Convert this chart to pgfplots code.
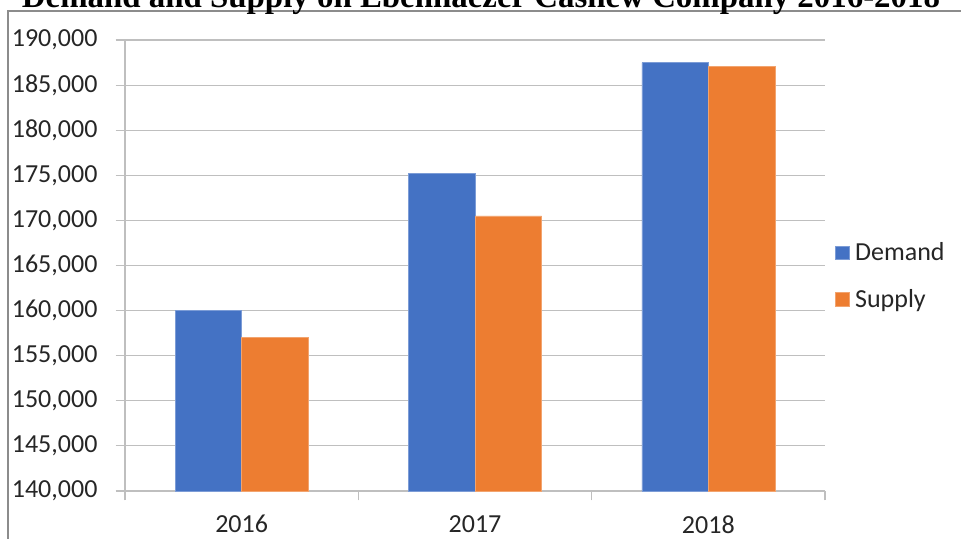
\documentclass[border=0pt]{standalone}
\usepackage{pgfplots}
\pgfplotsset{compat=1.18}
\usepackage{pgfplotstable}
\usepackage{fontspec}
\setmainfont{Carlito}
\newfontfamily\titlefont{Liberation Serif}
\definecolor{dblue}{HTML}{4472C4}
\definecolor{sorange}{HTML}{ED7D31}
\definecolor{gridc}{HTML}{BFBFBF}
\definecolor{framec}{HTML}{8C8C8C}
\pgfplotstableread{
x demand supply
0 160000 157000
1 175200 170500
2 187500 187100
}\datatable
\begin{document}
\begin{tikzpicture}
\useasboundingbox (0pt,0pt) rectangle (720.75pt,-404.25pt);
% frame
\draw[framec, line width=0.8pt] (6pt,-420pt) -- (6pt,-8.25pt) -- (735pt,-8.25pt);
% title (cut off at top)
\node[anchor=base, inner sep=0pt] at (360.75pt,-5.6pt) {\resizebox{688.5pt}{!}{\titlefont\bfseries Demand and Supply on Ebennaezer Cashew Company 2016-2018}};
\begin{axis}[
  at={(93.75pt,-368.25pt)}, anchor=south west,
  scale only axis, width=525pt, height=338.25pt,
  ymin=140000, ymax=190000,
  xmin=-0.5, xmax=2.5,
  ytick={140000,145000,...,190000},
  xtick={0,1,2}, xticklabels={2016,2017,2018},
  major x tick style={draw=none},
  extra x ticks={-0.5,0.5,1.5,2.5}, extra x tick labels={},
  extra x tick style={major tick length=7pt, tick align=outside, grid=none, major x tick style={draw=gridc, line width=0.8pt}},
  y tick style={draw=gridc, line width=0.8pt},
  major tick length=7pt, tick align=outside,
  axis x line*=bottom, axis y line*=left,
  axis line style={draw=gridc, line width=0.8pt, -},
  ymajorgrids, grid style={draw=gridc, line width=0.8pt},
  scaled y ticks=false,
  yticklabel={\pgfmathprintnumber[fixed, 1000 sep={,}]{\tick}},
  /pgf/number format/assume math mode=true,
  tick label style={font=\fontsize{19.5}{23}\selectfont, text=black!85},
  yticklabel style={anchor=east, inner sep=0pt, xshift=-13.5pt},
  xticklabel style={anchor=north, inner sep=0pt, yshift=-11pt},
  ybar=0pt, bar width=0.285,
  legend style={at={(1,0.477)}, anchor=west, draw=none, fill=none, font=\fontsize{19.5}{23}\selectfont, text=black!85, row sep=16pt, inner sep=0pt, xshift=7.5pt},
  legend cell align=left,
  legend image code/.code={\fill[#1] (0pt,-5pt) rectangle (10pt,5pt); \path (12.5pt,0pt);},
]
\addplot[fill=dblue, draw=dblue!70!white, line width=0.4pt, bar shift=-0.1425] table[x=x, y=demand] {\datatable};
\addlegendentry{Demand}
\addplot[fill=sorange, draw=sorange!70!white, line width=0.4pt, bar shift=0.1425] table[x=x, y=supply] {\datatable};
\addlegendentry{Supply}
\end{axis}
\end{tikzpicture}
\end{document}
